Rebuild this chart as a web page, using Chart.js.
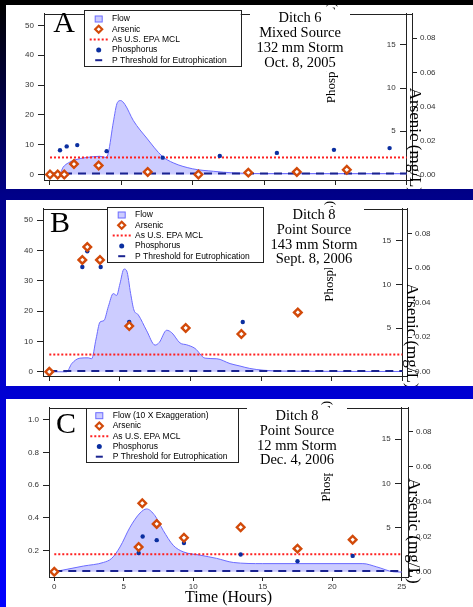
<!DOCTYPE html>
<html>
<head>
<meta charset="utf-8">
<script src="https://cdn.jsdelivr.net/npm/chart.js@4.4.1/dist/chart.umd.min.js"></script>
<style>
html,body{margin:0;padding:0}
body{width:473px;height:607px;overflow:hidden;position:relative;
  background:linear-gradient(to bottom,#000 0px,#000 5px,#000088 194px,#0000d2 392px,#0000ff 607px);}
canvas{position:absolute;background:#fff}
</style>
</head>
<body>
<canvas id="cA" width="467" height="184" style="left:6px;top:5px"></canvas>
<canvas id="cB" width="467" height="186" style="left:6px;top:200px"></canvas>
<canvas id="cC" width="467" height="208" style="left:6px;top:399px"></canvas>
<script>
// ---- data ----
// panel A : Ditch 6, Oct 8 2005
var hoursFlowA = [0,0.65,0.93,1.29,1.75,2.57,3.5,3.93,4.09,4.44,4.72,4.95,5.25,5.84,6.78,7.87,8.64,10,11.45,12.85,15,20,25];
var flowA      = [0,0,2.5,3.9,4.9,5.7,6.1,5.7,7.3,17.6,24.1,24.8,23.5,18.1,12.2,6.1,3.9,1.9,1.07,0.54,0.3,0.3,0.3];
var hoursAsA   = [0,0.54,1.0,1.68,3.41,6.85,10.4,13.9,17.3,20.8];
var arsenicA   = [0,0,0,0.0061,0.0053,0.0015,0,0.0011,0.0015,0.0028];
var hoursPA    = [0.7,1.17,1.91,3.97,7.9,11.9,15.9,19.9,23.8];
var phosA      = [2.8,3.25,3.4,2.7,1.95,2.15,2.5,2.85,3.05];
var notesA     = ['Ditch 6','Mixed Source','132 mm Storm','Oct. 8, 2005'];

// panel B : Ditch 8, Sept 8 2006
var hoursFlowB = [0,1.23,1.59,2.17,2.76,3.0,3.31,3.59,3.87,4.18,4.53,4.77,5.0,5.29,5.48,5.76,5.99,6.3,6.9,7.49,7.79,8.31,8.67,9.26,9.73,10.32,11.03,11.86,12.8,13.5,14.2,15.2,17.5,25];
var flowB      = [0,0,2.7,4.5,4.6,4.3,10.8,16.4,16.9,21.5,25.8,25.2,29,33.9,33.3,25.8,20.4,18.8,13.5,8.8,9.7,13.7,12.9,9.5,8.9,7.7,4.5,4.3,2.7,1.9,1.1,0.5,0.2,0.1];
var hoursAsB   = [0,2.34,2.69,3.59,5.66,9.66,13.6,17.6];
var arsenicB   = [0,0.0648,0.0723,0.0648,0.0265,0.0254,0.0219,0.0344];
var hoursPB    = [0,2.34,2.69,3.64,5.66,9.66,13.7];
var phosB      = [0,12.0,13.8,12.0,5.7,5.1,5.7];
var notesB     = ['Ditch 8','Point Source','143 mm Storm','Sept. 8, 2006'];

// panel C : Ditch 8, Dec 4 2006 (flow x10)
var hoursFlowC = [0,2.09,3.53,4.13,4.73,5.45,6.17,6.65,7.24,7.84,8.56,9.28,10.48,11.68,12.88,15,22.2,23.2,24.4,25];
var flowC      = [0.07,0.105,0.127,0.152,0.222,0.343,0.43,0.455,0.414,0.323,0.232,0.192,0.172,0.152,0.127,0.12,0.12,0.1,0.07,0.068];
var hoursAsC   = [0,6.07,6.33,7.37,9.33,13.41,17.5,21.47];
var arsenicC   = [0,0.0141,0.0391,0.0273,0.0194,0.0254,0.0132,0.0183];
var hoursPC    = [0,6.07,6.36,7.37,9.33,13.41,17.5,21.47];
var phosC      = [0,2.13,4.0,3.58,3.25,1.95,1.2,1.8];
var notesC     = ['Ditch 8','Point Source','12 mm Storm','Dec. 4, 2006'];

var asMCL = 0.01;        // mg/L
var pThreshold = 0.1;    // mg/L

var hourTicks    = [0,5,10,15,20,25];
var flowTicksAB  = [0,10,20,30,40,50];
var flowTicksC   = [0.2,0.4,0.6,0.8,1.0];
var arsenicTicks = [0,0.02,0.04,0.06,0.08];
var phosTicks    = [5,10,15];

Chart.defaults.font.family = 'Liberation Sans';

function pts(xs, ys) {
  return xs.map(function(x, i) { return {x: x, y: ys[i]}; });
}
function setTicks(list) {
  return function(s) { s.ticks = list.map(function(v) { return {value: v}; }); };
}

// legend + text + frame, drawn on top of the chart
var overlay = {
  id: 'overlay',
  afterDraw: function(chart, args, o) {
    var ctx = chart.ctx, a = chart.chartArea;
    ctx.save();
    ctx.strokeStyle = '#222';
    ctx.lineWidth = 1;
    ctx.strokeRect(Math.round(a.left) + 0.5, Math.round(a.top) + 0.5,
      Math.round(a.right - a.left), Math.round(a.bottom - a.top));

    // phosphorus axis title, mostly hidden by the note box
    ctx.save();
    ctx.translate(o.phos[0], o.phos[1]);
    ctx.rotate(-Math.PI / 2);
    ctx.font = '13px "Liberation Serif"';
    ctx.fillStyle = '#000';
    ctx.textAlign = 'left';
    ctx.textBaseline = 'middle';
    ctx.fillText('Phosphorus (mg/L)', 0, 0);
    ctx.restore();

    // note box
    var nb = o.noteBase;
    ctx.fillStyle = '#fff';
    ctx.fillRect(o.noteX - 50, nb[0] - 12, 100, o.noteBottom - (nb[0] - 12));
    ctx.fillStyle = '#000';
    ctx.font = '14.5px "Liberation Serif"';
    ctx.textAlign = 'center';
    ctx.textBaseline = 'alphabetic';
    o.notes.forEach(function(t, i) { ctx.fillText(t, o.noteX, nb[i]); });

    // panel letter
    ctx.font = '30px "Liberation Serif"';
    ctx.textAlign = 'left';
    ctx.fillText(o.letter, o.letterPos[0], o.letterPos[1]);

    // arsenic axis title
    ctx.save();
    ctx.translate(o.arsenic[0], o.arsenic[1]);
    ctx.rotate(Math.PI / 2);
    ctx.font = '17px "Liberation Serif"';
    ctx.textBaseline = 'middle';
    ctx.fillText('Arsenic (mg/L)', 0, 0);
    ctx.restore();

    // legend
    var L = o.legend;
    ctx.fillStyle = '#fff';
    ctx.fillRect(L.x, L.y, L.w, L.h);
    ctx.strokeStyle = '#222';
    ctx.lineWidth = 1;
    ctx.strokeRect(Math.round(L.x) + 0.5, Math.round(L.y) + 0.5, Math.round(L.w), Math.round(L.h));
    var ds = chart.data.datasets;
    ds.forEach(function(d, i) {
      var cy = L.row0 + i * L.step, sx = L.symX;
      ctx.save();
      if (i === 0) {
        ctx.fillStyle = d.backgroundColor;
        ctx.fillRect(sx - 3.5, cy - 3, 7, 6);
        ctx.strokeStyle = d.borderColor;
        ctx.strokeRect(sx - 3.5, cy - 3, 7, 6);
      } else if (i === 1) {
        ctx.beginPath();
        ctx.moveTo(sx, cy - 3.5); ctx.lineTo(sx + 3.5, cy); ctx.lineTo(sx, cy + 3.5); ctx.lineTo(sx - 3.5, cy);
        ctx.closePath();
        ctx.fillStyle = '#fff'; ctx.fill();
        ctx.strokeStyle = d.pointBorderColor; ctx.lineWidth = 2.2; ctx.stroke();
      } else if (i === 3) {
        ctx.beginPath();
        ctx.arc(sx, cy, 2.5, 0, Math.PI * 2);
        ctx.fillStyle = d.backgroundColor; ctx.fill();
      } else {
        var half = i === 2 ? 9 : 3.5;
        ctx.beginPath();
        ctx.setLineDash(i === 2 ? [2, 2] : []);
        ctx.moveTo(sx - half, cy); ctx.lineTo(sx + half, cy);
        ctx.strokeStyle = d.borderColor; ctx.lineWidth = 2; ctx.stroke();
      }
      ctx.restore();
      ctx.fillStyle = '#000';
      ctx.font = '8.5px "Liberation Sans"';
      ctx.textAlign = 'left';
      ctx.textBaseline = 'middle';
      ctx.fillText(d.label, L.textX, cy);
    });
    ctx.restore();
  }
};

function makePanel(id, p) {
  var tickFont = {family: 'Liberation Sans', size: 8};
  var datasets = [
    {label: p.flowLabel, data: pts(p.hoursFlow, p.flow), yAxisID: 'y',
     borderColor: '#6b6bff', borderWidth: 1, backgroundColor: '#ccccff',
     fill: {value: p.flowBase}, pointRadius: 0, cubicInterpolationMode: 'monotone', order: 5},
    {label: 'Arsenic', data: pts(p.hoursAs, p.arsenic), yAxisID: 'yAs', showLine: false,
     pointStyle: 'rectRot', pointRadius: 3.8, pointBorderWidth: 2.4,
     pointBorderColor: '#d24a0a', pointBackgroundColor: '#fff',
     borderColor: '#d24a0a', backgroundColor: '#fff', order: 1},
    {label: 'As U.S. EPA MCL', data: [{x: 0, y: asMCL}, {x: 25, y: asMCL}], yAxisID: 'yAs',
     borderColor: '#ff2020', borderWidth: 2, borderDash: [2, 2], pointRadius: 0, order: 4},
    {label: 'Phosphorus', data: pts(p.hoursP, p.phos), yAxisID: 'yP', showLine: false,
     pointRadius: 2.2, pointBorderWidth: 0, backgroundColor: '#0b2fa0', borderColor: '#0b2fa0', order: 2},
    {label: 'P Threshold for Eutrophication', data: [{x: 0, y: pThreshold}, {x: 25, y: pThreshold}], yAxisID: 'yP',
     borderColor: '#1a2390', borderWidth: 2, borderDash: [8, 6], pointRadius: 0, order: 3}
  ];
  return new Chart(document.getElementById(id), {
    type: 'line',
    data: {datasets: datasets},
    plugins: [overlay],
    options: {
      responsive: false,
      animation: false,
      events: [],
      layout: {padding: {top: p.padTop, left: 0, right: 0, bottom: 0}},
      plugins: {
        legend: {display: false},
        tooltip: {enabled: false},
        overlay: p.overlay
      },
      scales: {
        x: {
          type: 'linear', min: p.xMin, max: p.xMax,
          afterFit: function(s) { s.height = p.xH; },
          afterBuildTicks: setTicks(hourTicks),
          grid: {drawOnChartArea: false, tickLength: p.xTick, color: '#222'},
          border: {color: '#222'},
          ticks: {color: p.showHours ? '#333' : 'rgba(0,0,0,0)', font: tickFont, padding: 1, maxRotation: 0,
                  callback: function(v) { return String(v); }},
          title: {display: p.showHours, text: 'Time (Hours)', color: '#000', padding: 0,
                  font: {family: 'Liberation Serif', size: 16}}
        },
        y: {
          position: 'left', min: p.yMin, max: p.yMax,
          afterFit: function(s) { s.width = p.yW; },
          afterBuildTicks: setTicks(p.flowTicks),
          grid: {drawOnChartArea: false, tickLength: 6, color: '#222'},
          border: {color: '#222'},
          ticks: {color: '#333', font: tickFont, padding: 4,
                  callback: function(v) { return p.flowDec ? v.toFixed(p.flowDec) : String(v); }}
        },
        yAs: {
          position: 'right', min: p.asMin, max: p.asMax,
          afterFit: function(s) { s.width = p.rightW; },
          afterBuildTicks: setTicks(arsenicTicks),
          grid: {drawOnChartArea: false, tickLength: 5, color: '#222'},
          border: {color: '#222'},
          ticks: {color: '#333', font: tickFont, padding: 3,
                  callback: function(v) { return v.toFixed(2); }}
        },
        yP: {
          // sits inside the plot at hour 25, labels to the left of its ticks
          position: {x: 25}, min: p.pMin, max: p.pMax,
          afterBuildTicks: setTicks(phosTicks),
          grid: {drawOnChartArea: false, tickLength: 6, color: '#222'},
          border: {color: '#222'},
          ticks: {color: '#333', font: tickFont,
                  callback: function(v) { return String(v) + '     '; }}
        }
      }
    }
  });
}

makePanel('cA', {
  flowLabel: 'Flow', hoursFlow: hoursFlowA, flow: flowA, flowBase: 0,
  hoursAs: hoursAsA, arsenic: arsenicA, hoursP: hoursPA, phos: phosA,
  flowTicks: flowTicksAB, flowDec: 0, showHours: false,
  padTop: 3, xH: 9, yW: 38, rightW: 61, xTick: 5,
  xMin: -0.42, xMax: 25.37, yMin: -1.85, yMax: 53.9,
  asMin: -0.00323, asMax: 0.09436, pMin: -0.64, pMax: 18.6,
  overlay: {letter: 'A', letterPos: [47.3, 27.3], notes: notesA, noteX: 294,
    noteBase: [16.7, 31.7, 46.7, 61.7], noteBottom: 66.5, phos: [326, 98.3], arsenic: [408, 82.7],
    legend: {x: 78, y: 5, w: 156.7, h: 56, row0: 14, step: 10.3, symX: 92.7, textX: 106}}
});

makePanel('cB', {
  flowLabel: 'Flow', hoursFlow: hoursFlowB, flow: flowB, flowBase: 0,
  hoursAs: hoursAsB, arsenic: arsenicB, hoursP: hoursPB, phos: phosB,
  flowTicks: flowTicksAB, flowDec: 0, showHours: false,
  padTop: 5, xH: 10, yW: 37, rightW: 66, xTick: 5,
  xMin: -0.446, xMax: 25.33, yMin: -1.39, yMax: 53.77,
  asMin: -0.00243, asMax: 0.0944, pMin: -0.48, pMax: 18.67,
  overlay: {letter: 'B', letterPos: [44, 31.7], notes: notesB, noteX: 308,
    noteBase: [19, 34.3, 49, 63.3], noteBottom: 68.3, phos: [324, 101.7], arsenic: [405.7, 83.3],
    legend: {x: 101.3, y: 6.7, w: 156, h: 55, row0: 15, step: 10.3, symX: 115.7, textX: 129}}
});

makePanel('cC', {
  flowLabel: 'Flow (10 X Exaggeration)', hoursFlow: hoursFlowC, flow: flowC, flowBase: 0.07,
  hoursAs: hoursAsC, arsenic: arsenicC, hoursP: hoursPC, phos: phosC,
  flowTicks: flowTicksC, flowDec: 1, showHours: true,
  padTop: 7, xH: 30, yW: 43, rightW: 65, xTick: 4,
  xMin: -0.38, xMax: 25.45, yMin: 0.038, yMax: 1.0745,
  asMin: -0.00299, asMax: 0.09356, pMin: -0.59, pMax: 18.56,
  overlay: {letter: 'C', letterPos: [50, 33.7], notes: notesC, noteX: 291,
    noteBase: [21, 36, 51, 65], noteBottom: 74, phos: [320.5, 102.7], arsenic: [407.3, 79.3],
    legend: {x: 80, y: 9.3, w: 152.3, h: 54, row0: 16.7, step: 10.25, symX: 93.3, textX: 106.7}}
});
</script>
</body>
</html>
